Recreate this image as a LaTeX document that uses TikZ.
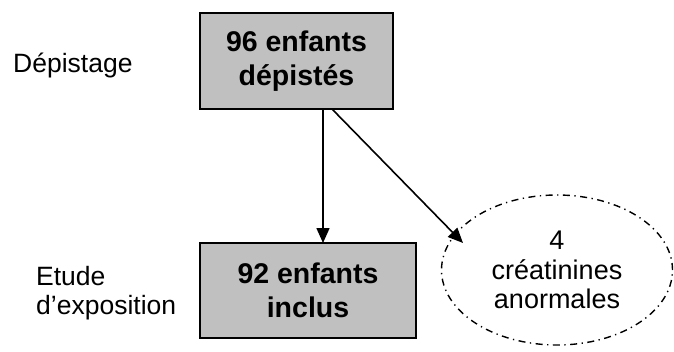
\documentclass[tikz,border=0pt]{standalone}
\usepackage{fontspec}
\setmainfont{Liberation Sans}
\usetikzlibrary{arrows.meta,shapes.geometric}
\definecolor{boxgray}{HTML}{C0C0C0}
\begin{document}
\begin{tikzpicture}[x=1pt,y=1pt,
  box/.style={draw=black,line width=1.6pt,fill=boxgray,inner sep=0pt,align=center,
    font=\fontsize{28.5}{34}\selectfont\bfseries},
  lbl/.style={inner sep=0pt,align=left,font=\fontsize{26.5}{29}\selectfont},
  ell/.style={ellipse,draw=black,line width=1.4pt,dash pattern=on 7pt off 4.5pt on 1.3pt off 4.5pt,
    inner sep=0pt,align=center,font=\fontsize{27}{29.5}\selectfont},
  arr/.style={line width=1.6pt,-{Triangle[length=15pt,width=13pt]}}]
\useasboundingbox (0,0) rectangle (674,351);
\node[box,minimum width=193pt,minimum height=96pt] (top) at (296.5,290) {96 enfants\\dépistés};
\node[box,minimum width=216pt,minimum height=95pt] (bot) at (308,60.5) {92 enfants\\inclus};
\node[ell,minimum width=231pt,minimum height=150pt] (cre) at (557,81) {4\\créatinines\\anormales};
\node[lbl,anchor=base west] (dep) at (13,278) {Dépistage};
\node[lbl,anchor=west] (etu) at (36,58) {Etude\\d’exposition};
\coordinate (a1) at (323,242);
\coordinate (a2) at (323,108);
\coordinate (b1) at (332,242);
\coordinate (b2) at (463,108);
\draw[arr] (a1) -- (a2);
\draw[arr] (b1) -- (b2);
\end{tikzpicture}
\end{document}
